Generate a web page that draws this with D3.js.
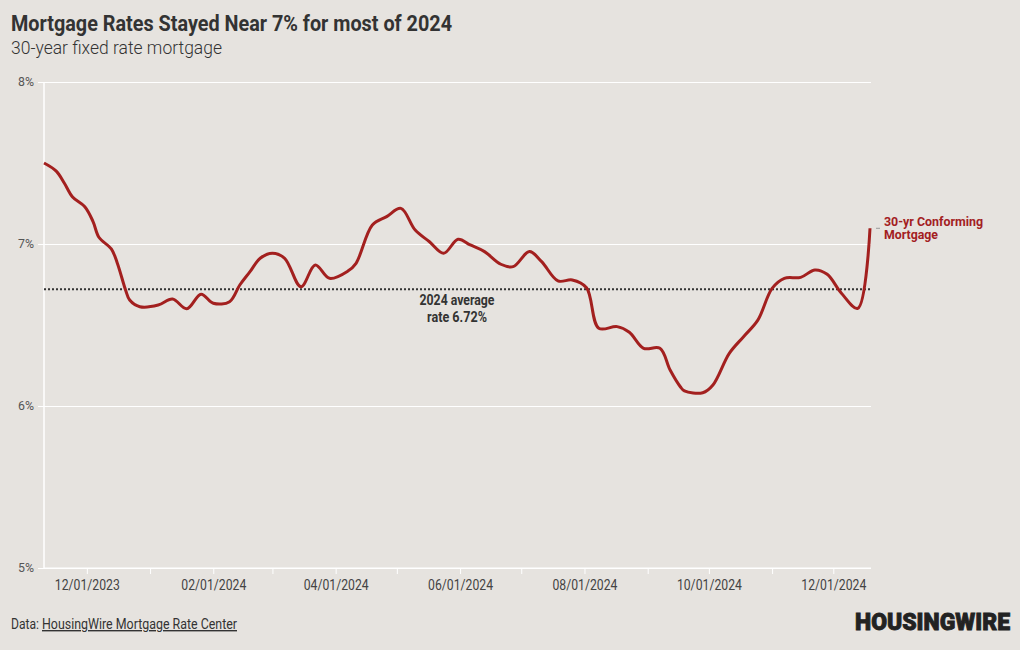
<!DOCTYPE html>
<html>
<head>
<meta charset="utf-8">
<script src="https://cdn.jsdelivr.net/npm/d3@7"></script>
<style>
  body { margin:0; background:#e6e3df; }
  svg text { font-family: "Roboto", sans-serif; }
</style>
</head>
<body>
<svg id="chart" width="1020" height="650"></svg>
<script>
// ---data---
var rateDates = ["2023-11-10","2023-11-16","2023-11-20","2023-11-24","2023-11-30","2023-12-04","2023-12-07",
  "2023-12-13","2023-12-16","2023-12-20","2023-12-22","2023-12-27","2024-01-05","2024-01-12","2024-01-19",
  "2024-01-26","2024-02-01","2024-02-09","2024-02-14","2024-02-19","2024-02-24","2024-03-01","2024-03-07",
  "2024-03-15","2024-03-22","2024-03-29","2024-04-07","2024-04-11","2024-04-19","2024-04-26","2024-05-03",
  "2024-05-10","2024-05-17","2024-05-24","2024-05-31","2024-06-06","2024-06-13","2024-06-21","2024-06-27",
  "2024-07-05","2024-07-11","2024-07-19","2024-07-26","2024-08-02","2024-08-08","2024-08-17","2024-08-23",
  "2024-08-30","2024-09-07","2024-09-12","2024-09-17","2024-09-19","2024-09-28","2024-10-03","2024-10-11",
  "2024-10-18","2024-10-25","2024-11-01","2024-11-07","2024-11-15","2024-11-22","2024-11-28","2024-12-05",
  "2024-12-13","2024-12-19"]
var rateValues = [7.50,7.45,7.375,7.29,7.23,7.14,7.04,
  6.97,6.88,6.716,6.654,6.613,6.623,6.66,6.60,
  6.69,6.634,6.644,6.747,6.829,6.912,6.943,6.912,
  6.736,6.87,6.788,6.833,6.881,7.117,7.169,7.22,
  7.086,7.014,6.943,7.029,6.994,6.953,6.875,6.86,
  6.953,6.891,6.772,6.778,6.73,6.48,6.49,6.455,
  6.356,6.356,6.222,6.119,6.093,6.082,6.13,6.325,
  6.428,6.53,6.726,6.788,6.794,6.84,6.813,6.696,
  6.603,7.097]
var yTicks = [5,6,7,8]
var xTickLabels = ["12/01/2023","02/01/2024","04/01/2024","06/01/2024","08/01/2024","10/01/2024","12/01/2024"]
var avgRate = 6.72

var parse = d3.timeParse("%Y-%m-%d")
var parseTick = d3.timeParse("%m/%d/%Y")
var series = rateDates.map(function(d,i){ return {date:parse(d), value:rateValues[i]} })

var svg = d3.select("#chart")
// ---plot box (window.top is read-only, so no "top" here)---
var plotL=44, plotR=870, plotT=82, plotB=568
var redLine="#a3201f"

var x = d3.scaleTime().domain(d3.extent(series,function(d){return d.date})).range([plotL,plotR])
var y = d3.scaleLinear().domain([5,8]).range([plotB,plotT])

//---squeeze Roboto to look like the condensed face---
function fit(sel,w){ return sel.attr("textLength",w).attr("lengthAdjust","spacingAndGlyphs") }

//---title---
fit(svg.append("text").attr("x",11).attr("y",31).attr("font-size",22).attr("font-weight","bold")
  .attr("fill","#333").text("Mortgage Rates Stayed Near 7% for most of 2024"),441)
fit(svg.append("text").attr("x",11).attr("y",54).attr("font-size",18).attr("font-weight",300)
  .attr("fill","#333").text("30-year fixed rate mortgage"),211)

//---y grid---
var yAxis = svg.append("g").attr("transform","translate("+plotL+",0)")
  .call(d3.axisLeft(y).tickValues(yTicks).tickSize(6).tickFormat(function(d){return d+"%"}))
yAxis.select(".domain").remove()
yAxis.selectAll(".tick line").attr("stroke","#fff")
yAxis.selectAll(".tick").append("line").attr("x1",0).attr("x2",plotR+1-plotL).attr("stroke","#fff").attr("stroke-width",1)
yAxis.selectAll(".tick text").attr("x",-10).attr("font-size",12).attr("fill","#555")
  .style("font-family","Roboto, sans-serif").attr("textLength",16).attr("lengthAdjust","spacingAndGlyphs")
svg.append("line").attr("x1",plotL).attr("x2",plotL).attr("y1",plotT).attr("y2",plotB)
  .attr("stroke","#fff").attr("stroke-width",1.5)

//---x axis, monthly ticks, label every other month---
var monthTicks = d3.timeMonth.range(parseTick("12/01/2023"), parseTick("12/02/2024"))
var xAxis = svg.append("g").attr("transform","translate(0,"+plotB+")")
  .call(d3.axisBottom(x).tickValues(monthTicks).tickSize(6).tickFormat(function(d){
     var s=d3.timeFormat("%m/%d/%Y")(d); return xTickLabels.indexOf(s)>=0 ? s : "" }))
xAxis.select(".domain").attr("stroke","#fff").attr("d","M"+plotL+",0H"+(plotR+1))
xAxis.selectAll(".tick line").attr("stroke","#fff")
xAxis.selectAll(".tick text").filter(function(){return this.textContent!=""})
  .attr("dy","0.95em").attr("font-size",14).attr("fill","#444")
  .style("font-family","Roboto, sans-serif").attr("textLength",65).attr("lengthAdjust","spacingAndGlyphs")

//---average line---
svg.append("line").attr("x1",plotL).attr("x2",plotR).attr("y1",y(avgRate)).attr("y2",y(avgRate))
  .attr("stroke","#333").attr("stroke-width",2).attr("stroke-dasharray","2,2")
var avgLab = svg.append("text").attr("x",457).attr("y",305).attr("text-anchor","middle")
  .attr("font-size",14).attr("font-weight","bold").attr("fill","#333")
fit(avgLab.append("tspan").attr("x",457).text("2024 average"),75)
fit(avgLab.append("tspan").attr("x",457).attr("dy",17).text("rate "+avgRate.toFixed(2)+"%"),60)

//---rate line---
var line = d3.line().x(function(d){return x(d.date)}).y(function(d){return y(d.value)})
  .curve(d3.curveCatmullRom.alpha(0.5))
svg.append("path").datum(series).attr("d",line).attr("fill","none")
  .attr("stroke",redLine).attr("stroke-width",3).attr("stroke-linejoin","round")

//---series label---
var last = series[series.length-1]
svg.append("line").attr("x1",plotR+6).attr("x2",plotR+10).attr("y1",y(last.value)).attr("y2",y(last.value))
  .attr("stroke","#999")
var lab = svg.append("text").attr("x",884).attr("y",226).attr("font-size",13)
  .attr("font-weight","bold").attr("fill",redLine)
fit(lab.append("tspan").attr("x",884).text("30-yr Conforming"),99)
fit(lab.append("tspan").attr("x",884).attr("dy",13).text("Mortgage"),54)

//---footer---
var foot = svg.append("text").attr("x",11).attr("y",629).attr("font-size",14).attr("fill","#333")
fit(foot.append("tspan").text("Data:"),28)
fit(foot.append("tspan").attr("x",42).attr("text-decoration","underline").text("HousingWire Mortgage Rate Center"),195)
//---logo: a little taller than wide---
fit(svg.append("text").attr("transform","translate(855,630) scale(1,1.12)").attr("font-size",22)
  .attr("font-weight","900").attr("fill","#222").attr("stroke","#222").attr("stroke-width",0.8)
  .text("HOUSINGWIRE"),155)
</script>
</body>
</html>
